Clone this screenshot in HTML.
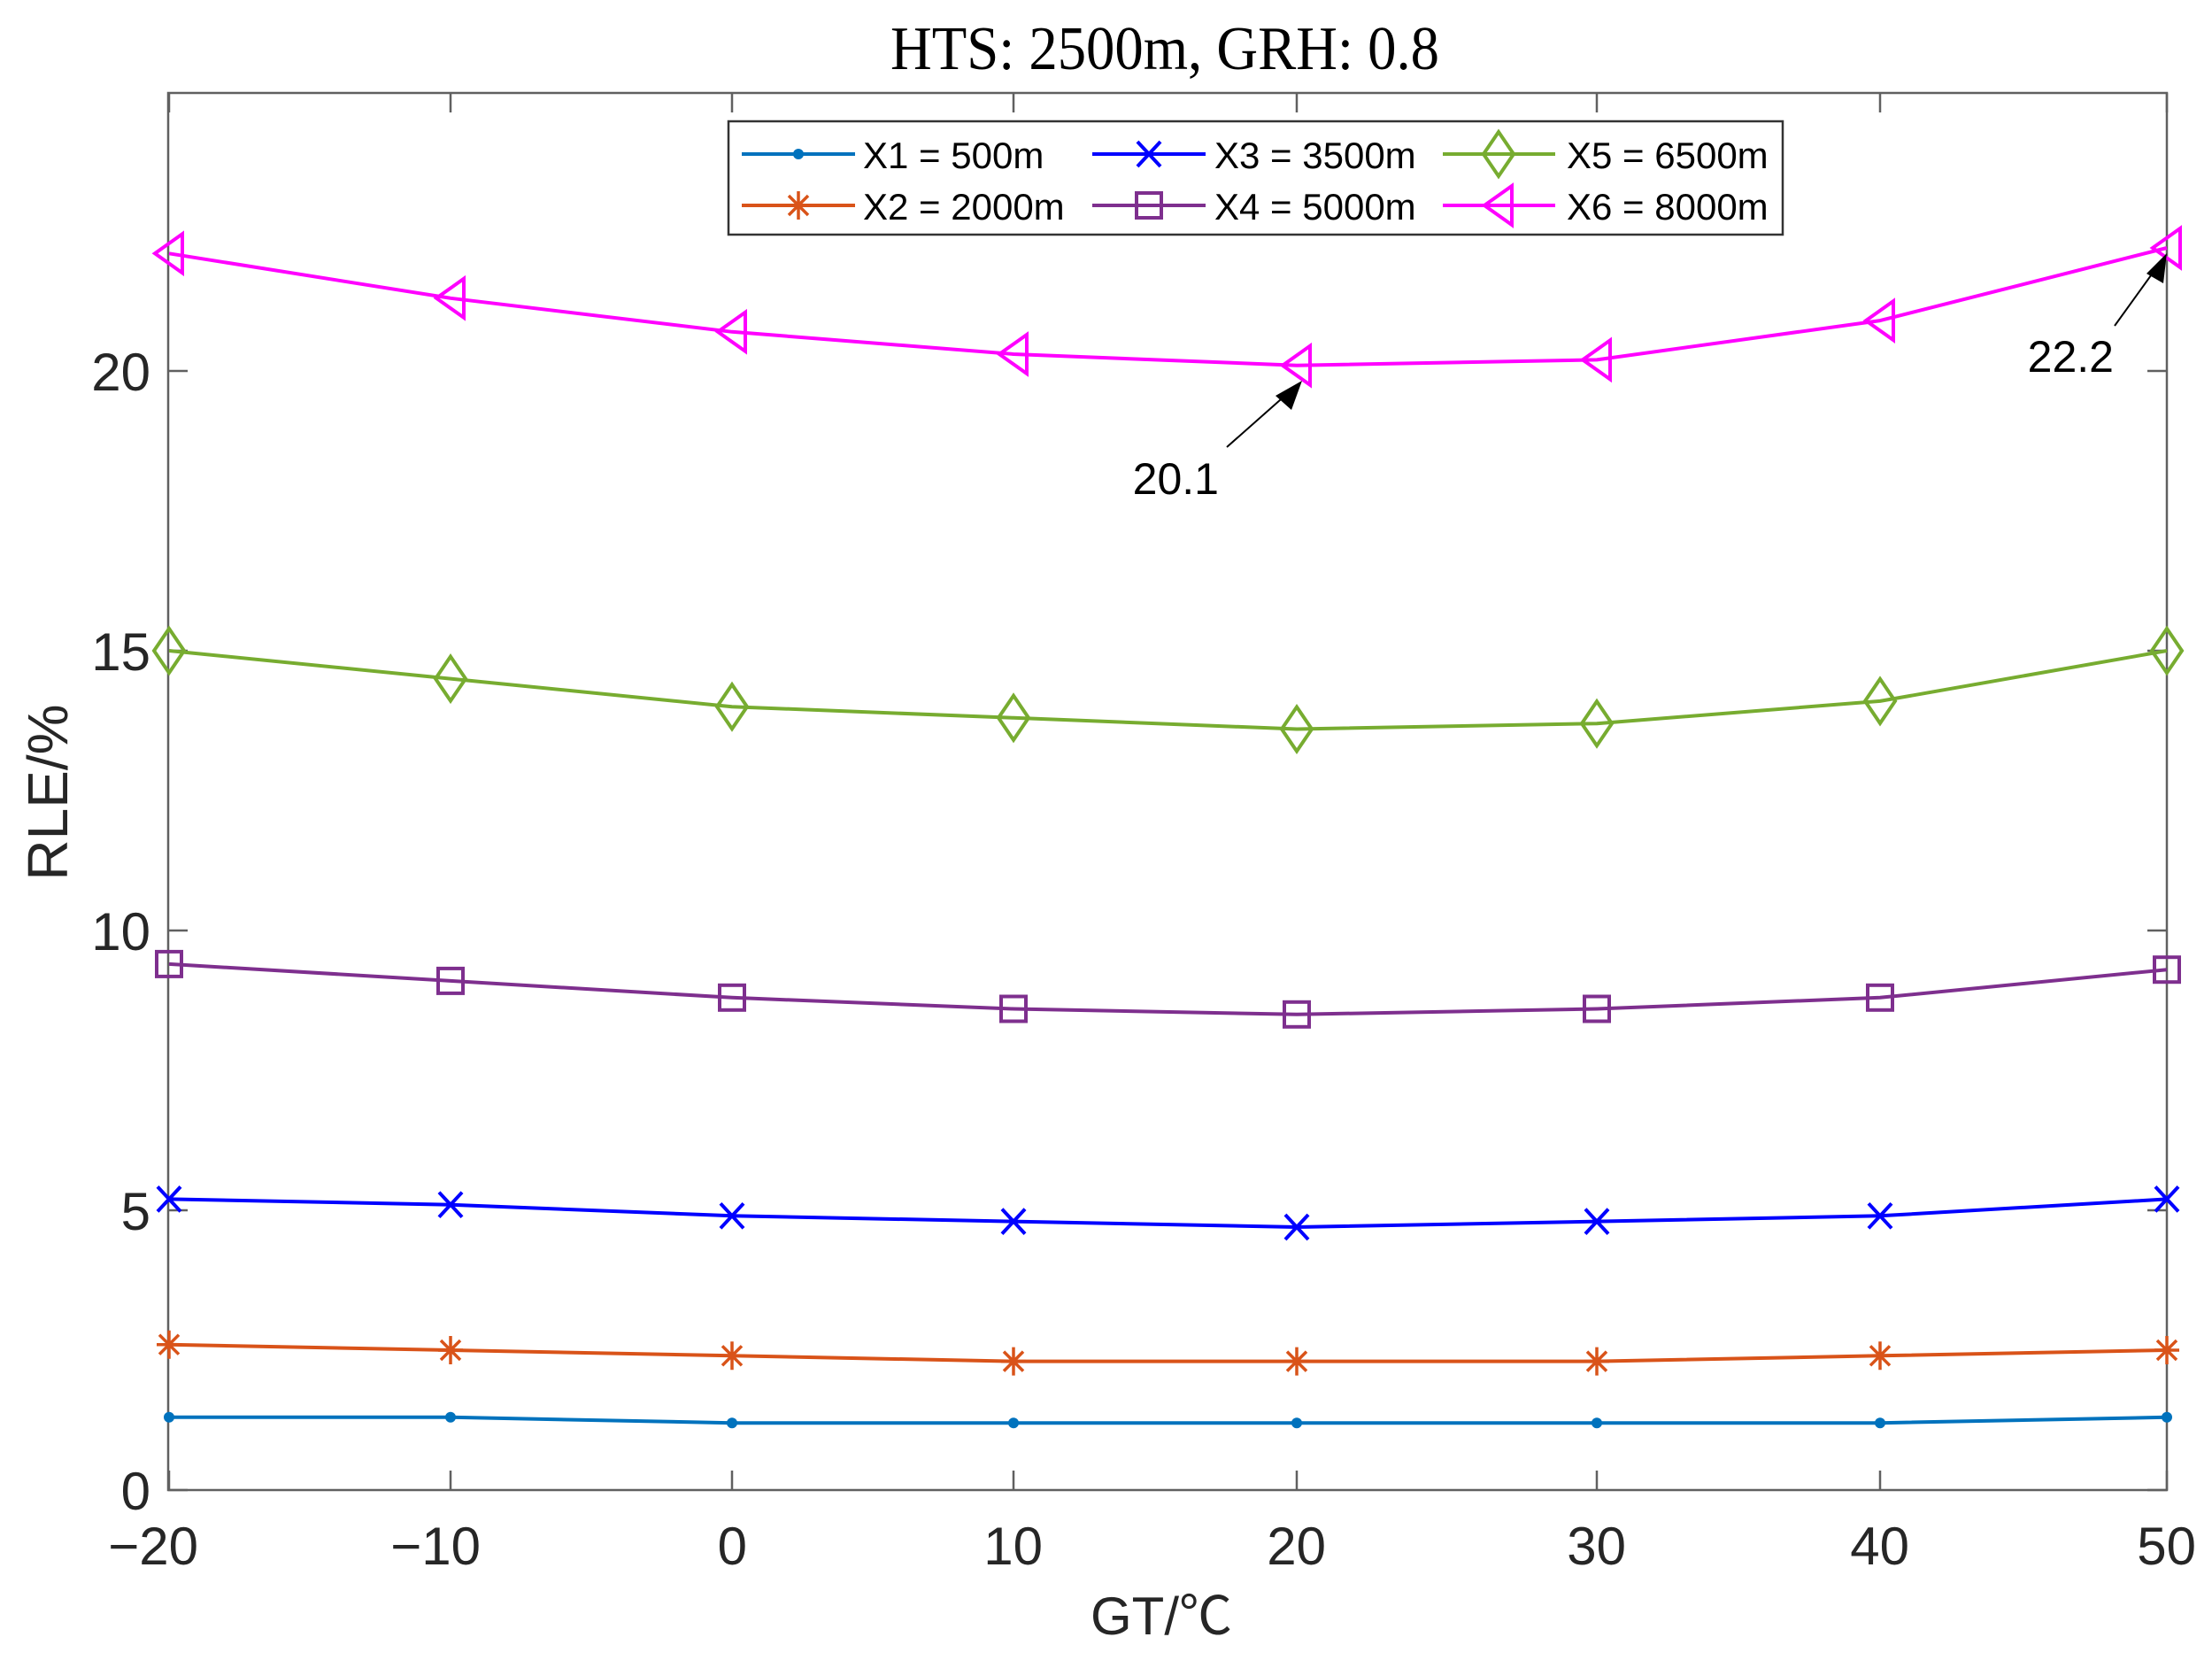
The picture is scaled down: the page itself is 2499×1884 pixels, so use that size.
<!DOCTYPE html>
<html><head><meta charset="utf-8"><style>
html,body{margin:0;padding:0;background:#fff;}
svg{display:block;}
text{font-family:"Liberation Sans","Noto Sans CJK SC",sans-serif;fill:#262626;}
</style></head><body>
<svg width="2499" height="1884" viewBox="0 0 2499 1884" xmlns="http://www.w3.org/2000/svg">
<defs>
<g id="mdot"><circle r="6" fill="#0072BD"/></g>
<g id="mstar" stroke="#D95319" stroke-width="3.5" fill="none"><path d="M-14 0H14M0-16V16M-11-11L11 11M-11 11L11-11"/></g>
<g id="mx" stroke="#0000FF" stroke-width="4" fill="none"><path d="M-13-14L13 14M-13 14L13-14"/></g>
<g id="msq" stroke="#7E2F8E" stroke-width="4" fill="none"><rect x="-14" y="-14" width="28" height="28"/></g>
<g id="mdia" stroke="#77AC30" stroke-width="4" fill="none"><path d="M0-25L17 0L0 25L-17 0Z"/></g>
<g id="mtri" stroke="#FF00FF" stroke-width="4" fill="none"><path d="M-16 0L15-22L15 22Z"/></g>
</defs>

<!-- title -->
<text x="1316" y="78" text-anchor="middle" textLength="620" lengthAdjust="spacingAndGlyphs" style="font-family:'Liberation Serif',serif;font-size:70px;fill:#000">HTS: 2500m, GRH: 0.8</text>

<!-- axes box -->
<rect x="190" y="105" width="2258" height="1578" fill="none" stroke="#606060" stroke-width="2.5"/>
<g stroke="#606060" stroke-width="2.5">
<!-- y ticks left & right -->
<path d="M190 1683h22M190 1367h22M190 1051h22M190 735h22M190 419h22"/>
<path d="M2448 1683h-22M2448 1367h-22M2448 1051h-22M2448 735h-22M2448 419h-22"/>
<!-- x ticks bottom & top -->
<path d="M191 1683v-22M509 1683v-22M827 1683v-22M1145 1683v-22M1465 1683v-22M1804 1683v-22M2124 1683v-22M2448 1683v-22"/>
<path d="M191 105v22M509 105v22M827 105v22M1145 105v22M1465 105v22M1804 105v22M2124 105v22M2448 105v22"/>
</g>

<!-- y tick labels -->
<g style="font-size:60px" text-anchor="end">
<text x="170" y="1705">0</text>
<text x="170" y="1389">5</text>
<text x="170" y="1073">10</text>
<text x="170" y="757">15</text>
<text x="170" y="441">20</text>
</g>
<!-- x tick labels -->
<g style="font-size:60px" text-anchor="end">
<text x="224" y="1767">−20</text>
<text x="543" y="1767">−10</text>
<text x="844" y="1767">0</text>
<text x="1178" y="1767">10</text>
<text x="1498" y="1767">20</text>
<text x="1837" y="1767">30</text>
<text x="2157" y="1767">40</text>
<text x="2481" y="1767">50</text>
</g>
<!-- axis labels -->
<text x="1232" y="1846" style="font-size:60px">GT/℃</text>
<text transform="translate(76,895) rotate(-90)" text-anchor="middle" style="font-size:64px">RLE/%</text>

<!-- series -->
<g fill="none" stroke-width="4" stroke-linejoin="round">
<polyline stroke="#0072BD" points="191,1600.8 509,1600.8 827,1607.2 1145,1607.2 1465,1607.2 1804,1607.2 2124,1607.2 2448,1600.8"/>
<polyline stroke="#D95319" points="191,1518.7 509,1525 827,1531.3 1145,1537.6 1465,1537.6 1804,1537.6 2124,1531.3 2448,1525"/>
<polyline stroke="#0000FF" points="191,1354.4 509,1360.7 827,1373.3 1145,1379.6 1465,1386 1804,1379.6 2124,1373.3 2448,1354.4"/>
<polyline stroke="#7E2F8E" points="191,1088.9 509,1107.9 827,1126.8 1145,1139.5 1465,1145.8 1804,1139.5 2124,1126.8 2448,1095.2"/>
<polyline stroke="#77AC30" points="191,735 509,766.6 827,798.2 1145,810.8 1465,823.5 1804,817.2 2124,791.9 2448,735"/>
<polyline stroke="#FF00FF" points="191,286.3 509,336.8 827,374.8 1145,400 1465,412.7 1804,406.4 2124,362.1 2448,280"/>
</g>
<!-- markers -->
<use href="#mdot" x="191" y="1600.8"/><use href="#mdot" x="509" y="1600.8"/><use href="#mdot" x="827" y="1607.2"/><use href="#mdot" x="1145" y="1607.2"/><use href="#mdot" x="1465" y="1607.2"/><use href="#mdot" x="1804" y="1607.2"/><use href="#mdot" x="2124" y="1607.2"/><use href="#mdot" x="2448" y="1600.8"/>
<use href="#mstar" x="191" y="1518.7"/><use href="#mstar" x="509" y="1525"/><use href="#mstar" x="827" y="1531.3"/><use href="#mstar" x="1145" y="1537.6"/><use href="#mstar" x="1465" y="1537.6"/><use href="#mstar" x="1804" y="1537.6"/><use href="#mstar" x="2124" y="1531.3"/><use href="#mstar" x="2448" y="1525"/>
<use href="#mx" x="191" y="1354.4"/><use href="#mx" x="509" y="1360.7"/><use href="#mx" x="827" y="1373.3"/><use href="#mx" x="1145" y="1379.6"/><use href="#mx" x="1465" y="1386"/><use href="#mx" x="1804" y="1379.6"/><use href="#mx" x="2124" y="1373.3"/><use href="#mx" x="2448" y="1354.4"/>
<use href="#msq" x="191" y="1088.9"/><use href="#msq" x="509" y="1107.9"/><use href="#msq" x="827" y="1126.8"/><use href="#msq" x="1145" y="1139.5"/><use href="#msq" x="1465" y="1145.8"/><use href="#msq" x="1804" y="1139.5"/><use href="#msq" x="2124" y="1126.8"/><use href="#msq" x="2448" y="1095.2"/>
<use href="#mdia" x="191" y="735"/><use href="#mdia" x="509" y="766.6"/><use href="#mdia" x="827" y="798.2"/><use href="#mdia" x="1145" y="810.8"/><use href="#mdia" x="1465" y="823.5"/><use href="#mdia" x="1804" y="817.2"/><use href="#mdia" x="2124" y="791.9"/><use href="#mdia" x="2448" y="735"/>
<use href="#mtri" x="191" y="286.3"/><use href="#mtri" x="509" y="336.8"/><use href="#mtri" x="827" y="374.8"/><use href="#mtri" x="1145" y="400"/><use href="#mtri" x="1465" y="412.7"/><use href="#mtri" x="1804" y="406.4"/><use href="#mtri" x="2124" y="362.1"/><use href="#mtri" x="2448" y="280"/>

<!-- annotations -->
<g stroke="#000" stroke-width="2">
<line x1="1386" y1="505" x2="1455" y2="444"/>
<line x1="2389" y1="368" x2="2438" y2="300"/>
</g>
<path d="M1471 430L1441 447L1459 463Z" fill="#000"/>
<path d="M2448 286L2425 309L2444 320Z" fill="#000"/>
<text x="1377" y="558" text-anchor="end" style="font-size:50px;fill:#000">20.1</text>
<text x="2388" y="420" text-anchor="end" style="font-size:50px;fill:#000">22.2</text>

<!-- legend -->
<rect x="823" y="137" width="1191" height="128" fill="#fff" stroke="#333" stroke-width="2.5"/>
<g stroke-width="4">
<line x1="838" y1="174" x2="966" y2="174" stroke="#0072BD"/>
<line x1="838" y1="232" x2="966" y2="232" stroke="#D95319"/>
<line x1="1234" y1="174" x2="1362" y2="174" stroke="#0000FF"/>
<line x1="1234" y1="232" x2="1362" y2="232" stroke="#7E2F8E"/>
<line x1="1630" y1="174" x2="1757" y2="174" stroke="#77AC30"/>
<line x1="1630" y1="232" x2="1757" y2="232" stroke="#FF00FF"/>
</g>
<use href="#mdot" x="902" y="174"/>
<use href="#mstar" x="902" y="232"/>
<use href="#mx" x="1298" y="174"/>
<use href="#msq" x="1298" y="232"/>
<use href="#mdia" x="1693" y="174"/>
<use href="#mtri" x="1693" y="232"/>
<g style="font-size:42px;fill:#000">
<text x="975" y="190" style="fill:#000">X1 = 500m</text>
<text x="975" y="248" style="fill:#000">X2 = 2000m</text>
<text x="1372" y="190" style="fill:#000">X3 = 3500m</text>
<text x="1372" y="248" style="fill:#000">X4 = 5000m</text>
<text x="1770" y="190" style="fill:#000">X5 = 6500m</text>
<text x="1770" y="248" style="fill:#000">X6 = 8000m</text>
</g>
</svg>
</body></html>
